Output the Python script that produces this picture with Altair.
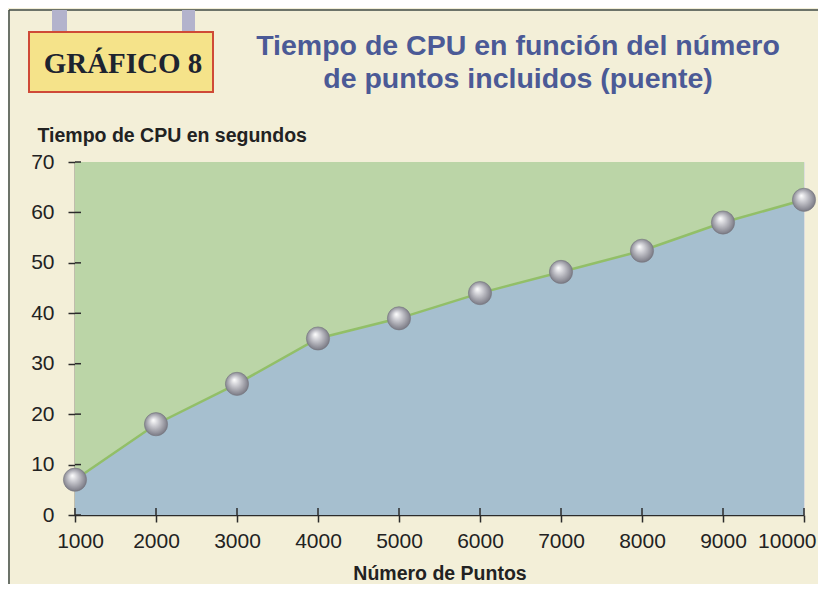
import altair as alt
import pandas as pd

# ---- data ----
puntos = [1000, 2000, 3000, 4000, 5000, 6000, 7000, 8000, 9000, 10000]
tiempo = [7, 18, 26, 35, 39, 44, 48.2, 52.4, 58, 62.5]
x_ticks = [1000, 2000, 3000, 4000, 5000, 6000, 7000, 8000, 9000, 10000]
y_ticks = [0, 10, 20, 30, 40, 50, 60, 70]
title_lines = ["Tiempo de CPU en función del número", "de puntos incluidos (puente)"]
badge_text = "GRÁFICO 8"
x_title = "Número de Puntos"
y_title = "Tiempo de CPU en segundos"

# ---- style ----
W, H = 729, 353
CREAM = "#f3efd8"
GREEN = "#bbd5a7"
BLUE = "#a6bfcf"
LINE = "#92bf68"
AXIS = "#2b2b2b"
TITLE_BLUE = "#4b5a96"

df = pd.DataFrame({"puntos": puntos, "tiempo": tiempo})
one = pd.DataFrame({"k": [0]})
xt = pd.DataFrame({"v": x_ticks})
yt = pd.DataFrame({"v": y_ticks})

xscale = alt.Scale(domain=[1000, 10000], nice=False, zero=False)
yscale = alt.Scale(domain=[0, 70], nice=False)

x_axis = alt.Axis(
    values=x_ticks, format="d", grid=False,
    labelFontSize=21, labelColor="#222", labelPadding=8, labelFlush=False,
    labelAlign={"expr": "datum.value == 10000 ? 'right' : 'center'"},
    labelOffset={"expr": "datum.value == 10000 ? 12 : (datum.value == 1000 ? 5 : 0)"},
    tickSize=7, tickColor=AXIS, tickWidth=1.5,
    domainColor=AXIS, domainWidth=1.5,
    titleFontSize=19.5, titleFontWeight="bold", titleColor="#222",
    titleBaseline="alphabetic", titleY=64,
)
y_axis = alt.Axis(
    values=y_ticks, grid=False,
    labelFontSize=21, labelColor="#222", labelPadding=14,
    tickSize=7, tickColor=AXIS, tickWidth=1.5,
    domainColor=AXIS, domainWidth=1.5,
    titleFontSize=19.5, titleFontWeight="bold", titleColor="#222",
    titleAngle=0, titleAlign="left", titleBaseline="alphabetic",
    titleX=-38, titleY=-21,
)

base = alt.Chart(df).encode(
    x=alt.X("puntos:Q", scale=xscale, axis=x_axis, title=x_title),
    y=alt.Y("tiempo:Q", scale=yscale, axis=y_axis, title=y_title),
)

plot_bg = alt.Chart(one).mark_rect(color=GREEN).encode(
    x=alt.value(0), x2=alt.value(W), y=alt.value(0), y2=alt.value(H))
area = base.mark_area(color=BLUE, opacity=1)
line = base.mark_line(color=LINE, strokeWidth=2.5)

sphere = alt.RadialGradient(
    gradient="radial", x1=0.38, y1=0.32, r1=0.0, x2=0.5, y2=0.5, r2=0.6,
    stops=[
        alt.GradientStop(offset=0.0, color="#ffffff"),
        alt.GradientStop(offset=0.35, color="#c9c9cf"),
        alt.GradientStop(offset=0.8, color="#85858f"),
        alt.GradientStop(offset=1.0, color="#5e5e68"),
    ],
)
pts = base.mark_point(filled=True, shape="circle", size=540, fill=sphere,
                      opacity=1, stroke="#777780", strokeWidth=0.6)

# inner halves of crossing ticks
x_in = alt.Chart(xt).mark_rule(color=AXIS, strokeWidth=1.5).encode(
    x=alt.X("v:Q", scale=xscale), y=alt.value(H - 7), y2=alt.value(H))
y_in = alt.Chart(yt).mark_rule(color=AXIS, strokeWidth=1.5).encode(
    y=alt.Y("v:Q", scale=yscale), x=alt.value(0), x2=alt.value(6))

# decorations: frame, badge, title
frame_top = alt.Chart(one).mark_rule(color="#3f4a44", strokeWidth=1.5).encode(
    x=alt.value(-66), x2=alt.value(W + 20), y=alt.value(-152))
frame_left = alt.Chart(one).mark_rule(color="#3f4a44", strokeWidth=1.5).encode(
    x=alt.value(-66), y=alt.value(-152), y2=alt.value(H + 80))
post1 = alt.Chart(one).mark_rect(color="#b3b3cc").encode(
    x=alt.value(-23), x2=alt.value(-8), y=alt.value(-152), y2=alt.value(-130))
post2 = alt.Chart(one).mark_rect(color="#b3b3cc").encode(
    x=alt.value(107), x2=alt.value(120), y=alt.value(-152), y2=alt.value(-130))
badge = alt.Chart(one).mark_rect(fill="#f5e38a", stroke="#cf4a37", strokeWidth=2).encode(
    x=alt.value(-46), x2=alt.value(138), y=alt.value(-130), y2=alt.value(-70))
badge_t = alt.Chart(one).mark_text(
    text=badge_text, font="Liberation Serif", fontSize=29, fontWeight="bold",
    color="#1d2430", align="center", baseline="alphabetic",
).encode(x=alt.value(48), y=alt.value(-89))
title_t = alt.Chart(one).mark_text(
    text=title_lines, font="Liberation Sans", fontSize=28.5, fontWeight="bold",
    color=TITLE_BLUE, align="center", baseline="alphabetic", lineHeight=33,
).encode(x=alt.value(443), y=alt.value(-107))

chart = alt.layer(
    plot_bg, area, line, x_in, y_in, pts,
    frame_top, frame_left, post1, post2, badge, badge_t, title_t,
).properties(
    width=W, height=H,
    autosize=alt.AutoSizeParams(type="none"),
    padding={"left": 67, "top": 154, "right": 14, "bottom": 69},
    background=CREAM,
).configure_view(
    stroke="transparent", strokeWidth=0,
).configure(font="Liberation Sans")

chart.save("out.html", embed_options={"renderer": "svg", "actions": False})
